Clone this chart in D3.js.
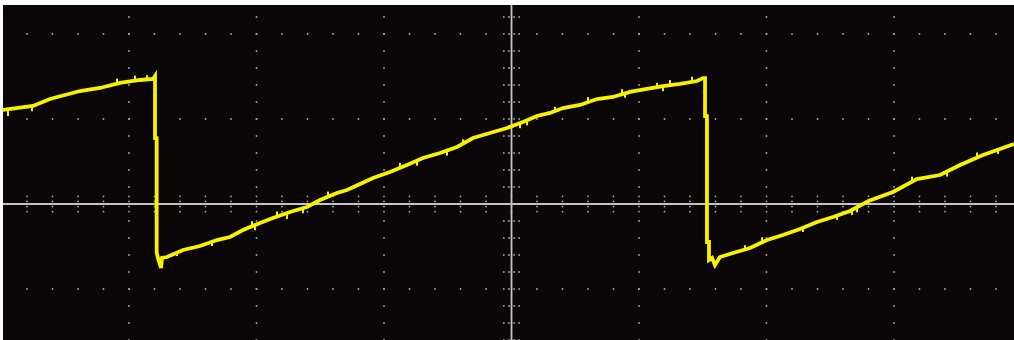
<!DOCTYPE html>
<html>
<head>
<meta charset="utf-8">
<script src="https://cdn.jsdelivr.net/npm/d3@7"></script>
<style>
  html, body { margin: 0; padding: 0; background: #fff; }
  svg { display: block; }
</style>
</head>
<body>
<div id="scope"></div>
<script>
// Tela de osciloscópio: dente de serra (unidades em divisões da grade)

// Traço amostrado (tempo em divisões, tensão em divisões)
const timeDiv = [
  -3.988, -3.753, -3.620, -3.384, -3.227, -3.071, -2.914, -2.812,
  -2.796, -2.796, -2.783, -2.783, -2.773, -2.749, -2.741,
  -2.702, -2.576, -2.443, -2.310, -2.208, -2.106, -1.973, -1.871,
  -1.737, -1.604, -1.502, -1.369, -1.290, -1.188, -1.086, -0.953,
  -0.820, -0.694, -0.561, -0.427, -0.302, -0.169, -0.035, 0.090,
  0.200, 0.302, 0.404, 0.537, 0.671, 0.796, 0.929, 1.063,
  1.188, 1.322, 1.455, 1.502,
  1.518, 1.518, 1.533, 1.533, 1.549, 1.549, 1.573, 1.596,
  1.635, 1.737, 1.871, 2.004, 2.129, 2.263, 2.396, 2.522,
  2.655, 2.800, 2.992, 3.180, 3.361, 3.518, 3.698, 3.831, 3.941
];
const voltDiv = [
  1.106, 1.153, 1.235, 1.329, 1.365, 1.424, 1.459, 1.471,
  1.506, 0.776, 0.776, -0.565, -0.635, -0.753, -0.635,
  -0.624, -0.541, -0.494, -0.424, -0.388, -0.306, -0.224, -0.165,
  -0.094, -0.035, 0.047, 0.129, 0.165, 0.235, 0.306, 0.376,
  0.459, 0.541, 0.600, 0.671, 0.776, 0.835, 0.894, 0.965,
  1.035, 1.071, 1.129, 1.165, 1.235, 1.259, 1.318, 1.353,
  1.388, 1.412, 1.447, 1.482,
  1.482, 1.035, 1.035, -0.447, -0.447, -0.659, -0.635, -0.718,
  -0.624, -0.576, -0.518, -0.424, -0.365, -0.294, -0.212, -0.153,
  -0.082, 0.035, 0.141, 0.294, 0.341, 0.459, 0.576, 0.647, 0.706
];

// Picos de ruído visíveis no traço (posição e deslocamento)
const spikeTime = [
  -3.949, -3.761, -3.094, -2.953, -2.859, -2.624, -2.349, -2.035, -2.012,
  -1.839, -1.761, -1.635, -1.439, -0.875, -0.741, -0.506, -0.380, 0.067,
  0.122, 0.341, 0.600, 0.867, 0.890, 1.141, 1.188, 1.243, 1.416, 1.831,
  1.965, 2.286, 2.553, 2.671, 2.710, 3.141, 3.416, 3.651, 3.816
];
const spikeDelta = [
  -0.08, -0.06, 0.06, 0.06, 0.05, -0.04, -0.05, 0.06, -0.06,
  0.06, -0.07, -0.06, 0.06, 0.06, -0.06, -0.06, 0.05, -0.06,
  -0.06, 0.05, 0.06, 0.06, -0.05, 0.05, -0.06, 0.06, 0.06, 0.05,
  0.06, -0.05, -0.05, -0.06, -0.06, 0.06, -0.06, 0.06, -0.05
];

// Grade: 8 divisões horizontais, 5 subdivisões cada
const majorTime = [-3, -2, -1, 1, 2, 3];
const majorVolt = [-2, -1, 1, 2];

const W = 1014, H = 340;
const svg = d3.select('#scope').append('svg')
  .attr('width', W)
  .attr('height', H);

svg.append('defs').append('clipPath')
  .attr('id', 'screen')
  .append('rect')
  .attr('x', 3).attr('y', 5)
  .attr('width', W - 3).attr('height', H - 5);

const g = svg.append('g').attr('clip-path', 'url(#screen)');

g.append('rect')
  .attr('x', 3).attr('y', 5)
  .attr('width', W - 3).attr('height', H - 5)
  .attr('fill', '#0b0709');

// Escalas (127.5 px por divisão horizontal, 85 px por divisão vertical)
const x = d3.scaleLinear().domain([-4, 4]).range([1.5, 1021.5]);
const y = d3.scaleLinear().domain([-4, 4]).range([544, -136]);

const minorTime = d3.range(-20, 21).map(i => i / 5);
const minorVolt = d3.range(-15, 16).map(i => i / 5);

// Pontos da grade
const dots = [];
majorVolt.forEach(v => minorTime.forEach(t => { if (t !== 0) dots.push([t, v]); }));
majorTime.forEach(t => minorVolt.forEach(v => { if (v !== 0) dots.push([t, v]); }));
// marcas finas ao longo dos eixos centrais
const axisTickV = [-0.09, -0.03, 0.03, 0.09];
const axisTickT = [-0.06, -0.02, 0.02, 0.06];
minorTime.forEach(t => axisTickV.forEach(dv => dots.push([t, dv])));
minorVolt.forEach(v => axisTickT.forEach(dt => dots.push([dt, v])));

g.append('g')
  .selectAll('circle')
  .data(dots)
  .enter()
  .append('circle')
  .attr('cx', d => x(d[0]))
  .attr('cy', d => y(d[1]))
  .attr('r', 0.9)
  .attr('fill', '#a8a8a8');

// Eixos centrais
g.append('line')
  .attr('x1', 0).attr('x2', W)
  .attr('y1', y(0)).attr('y2', y(0))
  .attr('stroke', '#c4c4c4')
  .attr('stroke-width', 1.8);

g.append('line')
  .attr('x1', x(0)).attr('x2', x(0))
  .attr('y1', 0).attr('y2', H)
  .attr('stroke', '#c4c4c4')
  .attr('stroke-width', 1.8);

// Traço
const trace = timeDiv.map((t, i) => [t, voltDiv[i]]);

const line = d3.line()
  .x(d => x(d[0]))
  .y(d => y(d[1]));

g.append('path')
  .datum(trace)
  .attr('d', line)
  .attr('fill', 'none')
  .attr('stroke', '#f7f300')
  .attr('stroke-width', 3.8)
  .attr('stroke-linejoin', 'miter');

// valor do traço num instante (interpolação sobre as amostras lidas)
function valueAt(t) {
  for (let i = 0; i < trace.length - 1; i++) {
    const a = trace[i], b = trace[i + 1];
    if (b[0] > a[0] && t >= a[0] && t <= b[0]) {
      return a[1] + (b[1] - a[1]) * (t - a[0]) / (b[0] - a[0]);
    }
  }
  return null;
}

const spikes = spikeTime.map((t, i) => ({ t, base: valueAt(t), dv: spikeDelta[i] }))
  .filter(d => d.base !== null);

g.append('g')
  .selectAll('line')
  .data(spikes)
  .enter()
  .append('line')
  .attr('x1', d => x(d.t)).attr('x2', d => x(d.t))
  .attr('y1', d => y(d.base))
  .attr('y2', d => y(d.base + d.dv))
  .attr('stroke', '#f7f300')
  .attr('stroke-width', 2);
</script>
</body>
</html>
